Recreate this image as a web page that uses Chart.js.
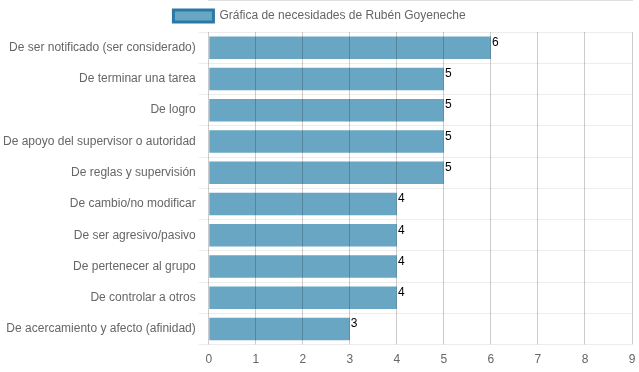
<!DOCTYPE html>
<html>
<head>
<meta charset="utf-8">
<script src="https://cdn.jsdelivr.net/npm/chart.js@4"></script>
<style>
  html, body { margin: 0; padding: 0; background: #fff; }
  #wrap { width: 639px; height: 372px; }
</style>
</head>
<body>
<div id="wrap"><canvas id="graphCanvas"></canvas></div>
<script>
const needLabels = [
  "De ser notificado (ser considerado)",
  "De terminar una tarea",
  "De logro",
  "De apoyo del supervisor o autoridad",
  "De reglas y supervisión",
  "De cambio/no modificar",
  "De ser agresivo/pasivo",
  "De pertenecer al grupo",
  "De controlar a otros",
  "De acercamiento y afecto (afinidad)"
];
const needValues = [6, 5, 5, 5, 5, 4, 4, 4, 4, 3];
const seriesName = "Gráfica de necesidades de Rubén Goyeneche";

Chart.defaults.font.family = "'Liberation Sans', Arial, sans-serif";
Chart.defaults.font.size = 12;
Chart.defaults.color = "#666";

//writes the value at the end of every bar
const valueLabels = {
  id: "valueLabels",
  afterDatasetsDraw(chart) {
    const ctx = chart.ctx;
    const meta = chart.getDatasetMeta(0);
    ctx.save();
    ctx.fillStyle = "#000";
    ctx.font = "12px 'Liberation Sans', Arial, sans-serif";
    ctx.textAlign = "left";
    ctx.textBaseline = "bottom";
    meta.data.forEach((bar, i) => {
      ctx.fillText(needValues[i], bar.x + 1, bar.y + 1);
    });
    ctx.restore();
  }
};

new Chart(document.getElementById("graphCanvas"), {
  type: "bar",
  data: {
    labels: needLabels,
    datasets: [{
      label: seriesName,
      data: needValues,
      backgroundColor: "rgba(42, 128, 171, 0.7)",
      borderColor: "rgb(42, 120, 165)",
      borderWidth: 0
    }]
  },
  options: {
    indexAxis: "y",
    responsive: true,
    maintainAspectRatio: false,
    animation: false,
    layout: { padding: { right: 0, bottom: -3 } },
    plugins: {
      tooltip: { enabled: false },
      legend: {
        position: "top",
        labels: {
          boxWidth: 40,
          boxHeight: 12,
          padding: 10,
          generateLabels(chart) {
            return Chart.defaults.plugins.legend.labels.generateLabels(chart).map((l) => {
              l.lineWidth = 3;
              l.strokeStyle = "rgb(42, 120, 165)";
              return l;
            });
          }
        }
      }
    },
    scales: {
      x: {
        min: 0,
        max: 9,
        ticks: { stepSize: 1, padding: 8 },
        grid: { color: "rgba(0,0,0,0.2)", z: 1, tickLength: 0 },
        border: { color: "rgba(0,0,0,0.25)" },
        //keeps the last tick label close to the right edge
        afterFit: (scale) => {
          scale.paddingRight = 7;
        }
      },
      y: {
        ticks: { padding: 3 },
        grid: { color: "rgba(0,0,0,0.07)", offset: true, tickLength: 10 },
        border: { display: false }
      }
    }
  },
  plugins: [valueLabels]
});
</script>
</body>
</html>
